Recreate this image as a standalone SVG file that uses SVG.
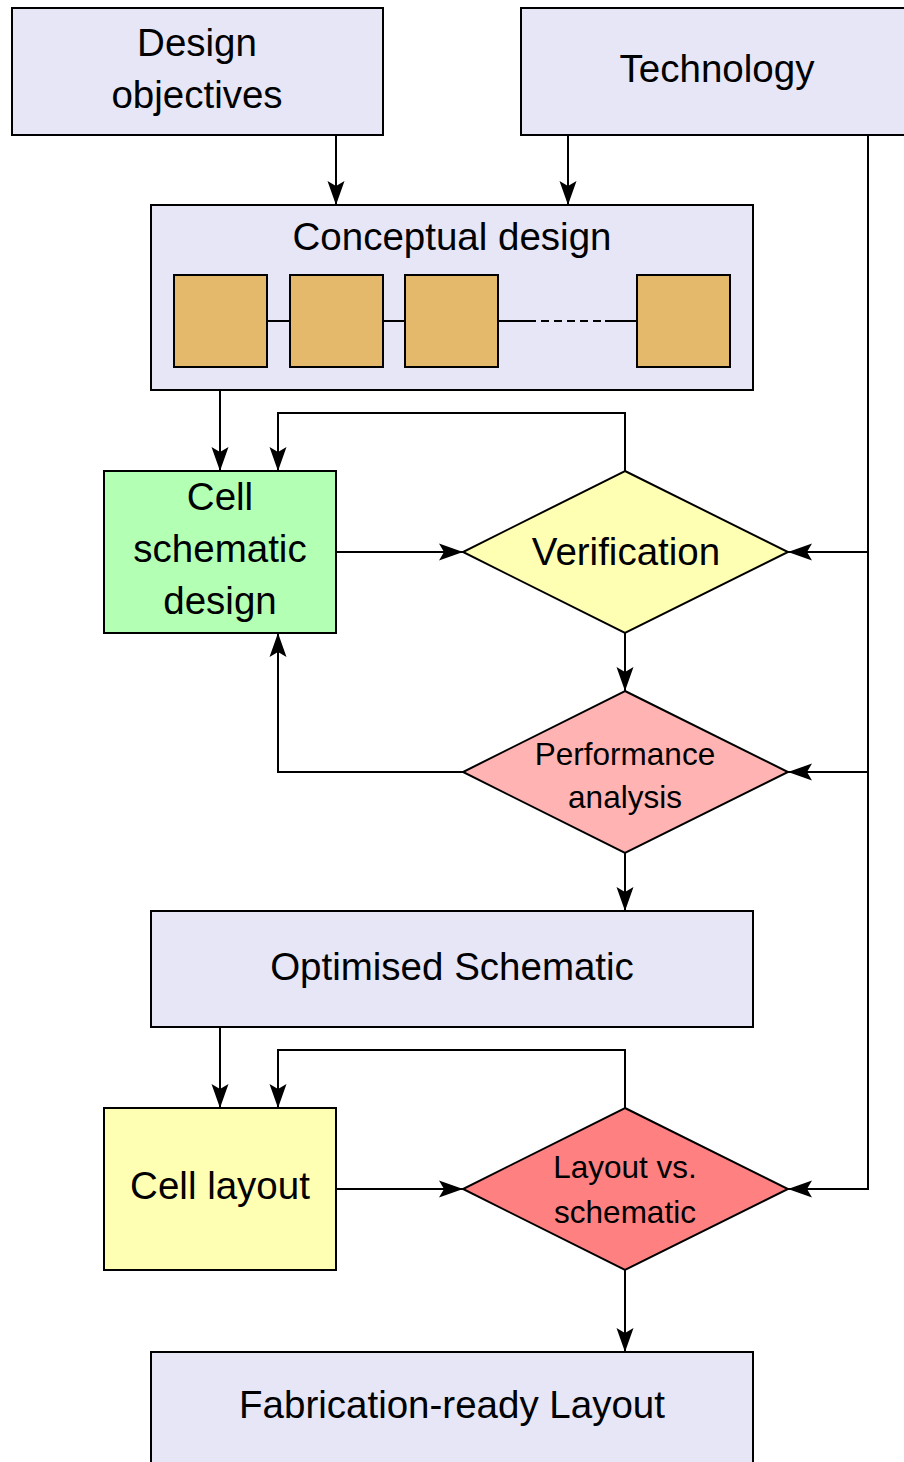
<svg xmlns="http://www.w3.org/2000/svg" width="904" height="1462" viewBox="0 0 904 1462">
  <style>
    .box { stroke: #000; stroke-width: 2; }
    .lav { fill: #e6e6f6; }
    .tan { fill: #e5b96b; stroke: #000; stroke-width: 2; }
    .lbl { font-family: "Liberation Sans", Arial, sans-serif; font-size: 38.5px; fill: #000; text-anchor: middle; }
    .sm { font-size: 31.5px; }
    .wire { fill: none; stroke: #000; stroke-width: 2; }
    .arrow { fill: none; stroke: #000; stroke-width: 2; marker-end: url(#tip); }
  </style>
  <defs>
    <marker id="tip" viewBox="-26 -10 27 20" refX="0" refY="0" markerWidth="27" markerHeight="20" markerUnits="userSpaceOnUse" orient="auto">
      <path d="M0,0 L-24,-8.5 L-19,0 L-24,8.5 Z" fill="#000"/>
    </marker>
  </defs>
  <rect width="904" height="1462" fill="#fff"/>

  <!-- connectors -->
  <g id="connectors">
    <path class="arrow" d="M336,135 V205"/>
    <path class="arrow" d="M568,135 V205"/>
    <path class="arrow" d="M868,135 V1189 H788"/>
    <path class="arrow" d="M868,552 H788"/>
    <path class="arrow" d="M868,772 H788"/>
    <path class="arrow" d="M220,390 V471"/>
    <path class="arrow" d="M625,471 V413 H278 V471"/>
    <path class="arrow" d="M336,552 H463"/>
    <path class="arrow" d="M625,633 V691"/>
    <path class="arrow" d="M463,772 H278 V633"/>
    <path class="arrow" d="M625,853 V911"/>
    <path class="arrow" d="M220,1027 V1108"/>
    <path class="arrow" d="M625,1108 V1050 H278 V1108"/>
    <path class="arrow" d="M336,1189 H463"/>
    <path class="arrow" d="M625,1270 V1352"/>
  </g>

  <g id="design-objectives">
    <rect class="box lav" x="12" y="8" width="371" height="127"/>
    <text class="lbl" x="197" y="56">Design</text>
    <text class="lbl" x="197" y="108">objectives</text>
  </g>

  <g id="technology">
    <rect class="box lav" x="521" y="8" width="390" height="127"/>
    <text class="lbl" x="717" y="82">Technology</text>
  </g>

  <g id="conceptual-design">
    <rect class="box lav" x="151" y="205" width="602" height="185"/>
    <text class="lbl" x="452" y="250">Conceptual design</text>
    <path class="wire" d="M267,321 H290 M383,321 H405 M498,321 H528 M605,321 H637"/>
    <path class="wire" d="M528,321 H605" stroke-dasharray="8,5"/>
    <rect class="tan" x="174" y="275" width="93" height="92"/>
    <rect class="tan" x="290" y="275" width="93" height="92"/>
    <rect class="tan" x="405" y="275" width="93" height="92"/>
    <rect class="tan" x="637" y="275" width="93" height="92"/>
  </g>

  <g id="cell-schematic-design">
    <rect class="box" fill="#b3ffb3" x="104" y="471" width="232" height="162"/>
    <text class="lbl" x="220" y="510">Cell</text>
    <text class="lbl" x="220" y="562">schematic</text>
    <text class="lbl" x="220" y="614">design</text>
  </g>

  <g id="verification">
    <polygon class="box" fill="#ffffb3" points="625,471 788,552 625,633 463,552"/>
    <text class="lbl" x="626" y="565">Verification</text>
  </g>

  <g id="performance-analysis">
    <polygon class="box" fill="#ffb3b3" points="625,691 788,772 625,853 463,772"/>
    <text class="lbl sm" x="625" y="765">Performance</text>
    <text class="lbl sm" x="625" y="808">analysis</text>
  </g>

  <g id="optimised-schematic">
    <rect class="box lav" x="151" y="911" width="602" height="116"/>
    <text class="lbl" x="452" y="980">Optimised Schematic</text>
  </g>

  <g id="cell-layout">
    <rect class="box" fill="#ffffb3" x="104" y="1108" width="232" height="162"/>
    <text class="lbl" x="220" y="1199">Cell layout</text>
  </g>

  <g id="layout-vs-schematic">
    <polygon class="box" fill="#ff8080" points="625,1108 788,1189 625,1270 463,1189"/>
    <text class="lbl sm" x="625" y="1178">Layout vs.</text>
    <text class="lbl sm" x="625" y="1223">schematic</text>
  </g>

  <g id="fabrication-ready-layout">
    <rect class="box lav" x="151" y="1352" width="602" height="120"/>
    <text class="lbl" x="452" y="1418">Fabrication-ready Layout</text>
  </g>
</svg>
